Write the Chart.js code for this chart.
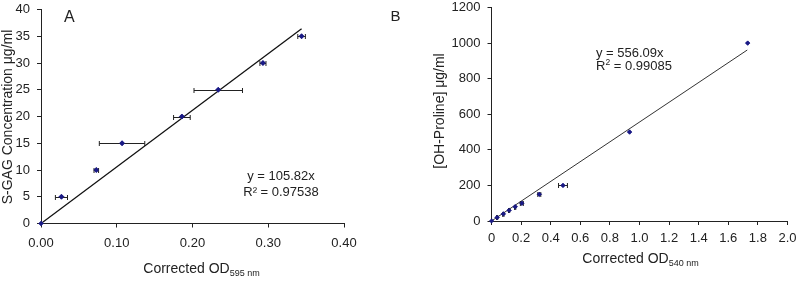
<!DOCTYPE html>
<html>
<head>
<meta charset="utf-8">
<script src="https://cdn.jsdelivr.net/npm/chart.js@4"></script>
<style>
  html, body { margin: 0; padding: 0; background: #fff; }
  body { width: 800px; height: 281px; position: relative; overflow: hidden; }
  canvas { position: absolute; top: 0; }
  #chartA { left: 0; }
  #chartB { left: 380px; }
</style>
</head>
<body>
<canvas id="chartA" width="400" height="281"></canvas>
<canvas id="chartB" width="420" height="281"></canvas>
<script>
// Panel A: S-GAG standard curve
const odA   = [0, 0.027, 0.073, 0.107, 0.186, 0.234, 0.293, 0.344];
const gagA  = [0, 5, 10, 15, 20, 25, 30, 35];
const errA  = [0, 0.008, 0.003, 0.030, 0.011, 0.032, 0.004, 0.005];
const trendAx = [0, 0.344];
const trendAy = [0, 36.4];

// Panel B: OH-Proline standard curve
const odB   = [0, 0.038, 0.080, 0.119, 0.160, 0.205, 0.323, 0.483, 0.933, 1.731];
const hypB  = [0, 20, 40, 60, 80, 100, 150, 200, 500, 1000];
const errB  = [0, 0.004, 0.004, 0.004, 0.004, 0.010, 0.010, 0.030, 0, 0];
const trendBx = [0, 1.728];
const trendBy = [0, 961];

Chart.defaults.font.family = "'Liberation Sans', Arial, sans-serif";
Chart.defaults.font.size = 13;
Chart.defaults.color = '#222';

const toPoints = (xs, ys) => xs.map((x, i) => ({ x: x, y: ys[i] }));

// horizontal error bars with end caps, markers redrawn on top
const errorBars = {
  id: 'errorBars',
  afterDatasetsDraw(chart) {
    const ctx = chart.ctx;
    const xs = chart.scales.x, ys = chart.scales.y;
    chart.data.datasets.forEach(ds => {
      if (!ds.xErr) return;
      ctx.save();
      ctx.strokeStyle = '#222';
      ctx.lineWidth = 1;
      ds.data.forEach((p, i) => {
        const e = ds.xErr[i];
        if (!e) return;
        const x0 = xs.getPixelForValue(p.x - e);
        const x1 = xs.getPixelForValue(p.x + e);
        const y = Math.round(ys.getPixelForValue(p.y)) + 0.5;
        ctx.beginPath();
        ctx.moveTo(x0, y); ctx.lineTo(x1, y);
        ctx.moveTo(x0, y - 2.5); ctx.lineTo(x0, y + 2.5);
        ctx.moveTo(x1, y - 2.5); ctx.lineTo(x1, y + 2.5);
        ctx.stroke();
      });
      ctx.restore();
    });
    chart.getSortedVisibleDatasetMetas().forEach(meta => {
      if (chart.data.datasets[meta.index].xErr) meta.controller.draw();
    });
  }
};

// free text: panel letters, axis titles with sub/superscripts, trendline labels
const notes = {
  id: 'notes',
  afterDraw(chart, args, opts) {
    const ctx = chart.ctx;
    opts.items.forEach(t => {
      ctx.save();
      ctx.fillStyle = '#222';
      ctx.textBaseline = 'alphabetic';
      ctx.translate(t.x, t.y);
      if (t.rotate) ctx.rotate(t.rotate);
      let w = 0;
      t.parts.forEach(p => {
        ctx.font = p.size + "px 'Liberation Sans', Arial, sans-serif";
        w += ctx.measureText(p.text).width;
      });
      let x = t.align === 'center' ? -w / 2 : 0;
      t.parts.forEach(p => {
        ctx.font = p.size + "px 'Liberation Sans', Arial, sans-serif";
        ctx.fillText(p.text, x, p.dy || 0);
        x += ctx.measureText(p.text).width;
      });
      ctx.restore();
    });
  }
};

function axisStyle(extra) {
  return Object.assign({
    type: 'linear',
    grid: { drawOnChartArea: false, drawTicks: true, tickLength: 4, color: '#222', lineWidth: 1 },
    border: { color: '#222', width: 1 }
  }, extra);
}

new Chart('chartA', {
  type: 'scatter',
  data: {
    datasets: [
      {
        label: 'S-GAG',
        data: toPoints(odA, gagA),
        xErr: errA,
        pointStyle: 'rectRot',
        pointRadius: 2.5,
        backgroundColor: '#1a1a86',
        borderColor: '#1a1a86',
        borderWidth: 0.5
      },
      {
        label: 'Linear',
        type: 'line',
        data: toPoints(trendAx, trendAy),
        borderColor: '#111',
        borderWidth: 1.3,
        pointRadius: 0,
        fill: false
      }
    ]
  },
  options: {
    responsive: false,
    animation: false,
    layout: { padding: { top: 9.5, right: 56, left: 0, bottom: 0 } },
    plugins: {
      legend: { display: false },
      tooltip: { enabled: false },
      notes: {
        items: [
          { x: 64, y: 21.5, parts: [{ text: 'A', size: 16 }] },
          { x: 12, y: 117, rotate: -Math.PI / 2, align: 'center', parts: [{ text: 'S-GAG Concentration μg/ml', size: 14 }] },
          { x: 201.5, y: 273.3, align: 'center', parts: [{ text: 'Corrected OD', size: 14 }, { text: '595 nm', size: 9, dy: 3 }] },
          { x: 281, y: 180.3, align: 'center', parts: [{ text: 'y = 105.82x', size: 13 }] },
          { x: 281, y: 195.8, align: 'center', parts: [{ text: 'R² = 0.97538', size: 13 }] }
        ]
      }
    },
    scales: {
      x: axisStyle({
        min: 0, max: 0.4,
        ticks: { stepSize: 0.1, padding: 8, maxRotation: 0, callback: v => v.toFixed(2) },
        afterFit: s => { s.height = 281 - 223.5; s.paddingLeft = 0; s.paddingRight = 0; }
      }),
      y: axisStyle({
        min: 0, max: 40,
        ticks: { stepSize: 5, padding: 7 },
        afterFit: s => { s.width = 41; s.paddingTop = 0; s.paddingBottom = 0; }
      })
    }
  },
  plugins: [errorBars, notes]
});

new Chart('chartB', {
  type: 'scatter',
  data: {
    datasets: [
      {
        label: 'OH-Proline',
        data: toPoints(odB, hypB),
        xErr: errB,
        pointStyle: 'rectRot',
        pointRadius: 2.2,
        backgroundColor: '#1a1a86',
        borderColor: '#1a1a86',
        borderWidth: 0.5
      },
      {
        label: 'Linear',
        type: 'line',
        data: toPoints(trendBx, trendBy),
        borderColor: '#333',
        borderWidth: 1,
        pointRadius: 0,
        fill: false
      }
    ]
  },
  options: {
    responsive: false,
    animation: false,
    layout: { padding: { top: 7.5, right: 12.5, left: 0, bottom: 0 } },
    plugins: {
      legend: { display: false },
      tooltip: { enabled: false },
      notes: {
        items: [
          { x: 10.5, y: 20.5, parts: [{ text: 'B', size: 15 }] },
          { x: 64, y: 111, rotate: -Math.PI / 2, align: 'center', parts: [{ text: '[OH-Proline] μg/ml', size: 14 }] },
          { x: 260.5, y: 263.3, align: 'center', parts: [{ text: 'Corrected OD', size: 14 }, { text: '540 nm', size: 9, dy: 3 }] },
          { x: 216, y: 57, parts: [{ text: 'y = 556.09x', size: 13 }] },
          { x: 216, y: 69.8, parts: [{ text: 'R', size: 13 }, { text: '2', size: 8.5, dy: -5 }, { text: ' = 0.99085', size: 13 }] }
        ]
      }
    },
    scales: {
      x: axisStyle({
        min: 0, max: 2,
        ticks: { stepSize: 0.2, padding: 6, maxRotation: 0, autoSkip: false,
                 callback: v => (v === 0 ? '0' : v.toFixed(1)) },
        afterFit: s => { s.height = 281 - 221; s.paddingLeft = 0; s.paddingRight = 0; }
      }),
      y: axisStyle({
        min: 0, max: 1200,
        ticks: { stepSize: 200, padding: 7, callback: v => String(v) },
        afterFit: s => { s.width = 111.5; s.paddingTop = 0; s.paddingBottom = 0; }
      })
    }
  },
  plugins: [errorBars, notes]
});
</script>
</body>
</html>
